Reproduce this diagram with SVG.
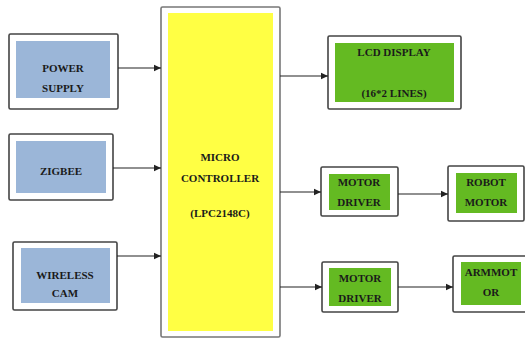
<svg xmlns="http://www.w3.org/2000/svg" width="525" height="339" viewBox="0 0 525 339">
<style>
.outer{fill:#fff;stroke:#444;stroke-width:1.6}
.blue{fill:#9bb6d8}
.green{fill:#64ba22}
.yellow{fill:#ffff44}
.t{font-family:"Liberation Serif",serif;font-weight:bold;font-size:11px;fill:#1a1a1a;text-anchor:middle}
.c{stroke:#222;stroke-width:1.2;fill:none}
</style>
<defs>
<marker id="ah" markerWidth="8" markerHeight="8" refX="7" refY="4" orient="auto" markerUnits="userSpaceOnUse">
<path d="M0,0.8 L7,4 L0,7.2 Z" fill="#222"/>
</marker>
</defs>
<rect width="525" height="339" fill="#fff"/>
<g id="power">
<rect class="outer" x="9" y="34" width="109" height="75" rx="1.5"/>
<rect class="blue" x="16" y="41" width="94" height="57"/>
<text class="t" x="63" y="72">POWER</text>
<text class="t" x="63" y="92">SUPPLY</text>
</g>
<g id="zigbee">
<rect class="outer" x="9" y="134" width="104" height="66" rx="1.5"/>
<rect class="blue" x="16" y="141" width="90" height="52"/>
<text class="t" x="61" y="175">ZIGBEE</text>
</g>
<g id="wireless">
<rect class="outer" x="13" y="242" width="104" height="68" rx="1.5"/>
<rect class="blue" x="21" y="248" width="89" height="55"/>
<text class="t" x="65" y="279">WIRELESS</text>
<text class="t" x="65" y="297">CAM</text>
</g>
<g id="controller">
<rect x="161" y="7" width="119" height="330" fill="#fff" stroke="#777" stroke-width="1.6" rx="1.5"/>
<rect class="yellow" x="168" y="13" width="105" height="318"/>
<text class="t" x="220" y="161">MICRO</text>
<text class="t" x="220" y="182">CONTROLLER</text>
<text class="t" x="220" y="217">(LPC2148C)</text>
</g>
<g id="lcd">
<rect class="outer" x="328" y="36" width="133" height="73" rx="1.5"/>
<rect class="green" x="335" y="43" width="119" height="59"/>
<text class="t" x="394" y="56">LCD DISPLAY</text>
<text class="t" x="394" y="97">(16*2 LINES)</text>
</g>
<g id="driver1">
<rect class="outer" x="321" y="167" width="77" height="49" rx="1.5"/>
<rect class="green" x="329" y="174" width="61" height="36"/>
<text class="t" x="359" y="186">MOTOR</text>
<text class="t" x="359" y="206">DRIVER</text>
</g>
<g id="robot">
<rect class="outer" x="448" y="166" width="76" height="55" rx="1.5"/>
<rect class="green" x="456" y="173" width="61" height="40"/>
<text class="t" x="486" y="186">ROBOT</text>
<text class="t" x="486" y="206">MOTOR</text>
</g>
<g id="driver2">
<rect class="outer" x="322" y="262" width="76" height="50" rx="1.5"/>
<rect class="green" x="329" y="268" width="62" height="38"/>
<text class="t" x="360" y="282">MOTOR</text>
<text class="t" x="360" y="302">DRIVER</text>
</g>
<g id="arm">
<rect class="outer" x="453" y="256" width="76" height="56" rx="1.5"/>
<rect class="green" x="461" y="262" width="60" height="43"/>
<text class="t" x="491" y="276">ARMMOT</text>
<text class="t" x="491" y="296">OR</text>
</g>
<g id="connectors">
<line class="c" x1="118" y1="68" x2="161" y2="68" marker-end="url(#ah)"/>
<line class="c" x1="113" y1="168" x2="161" y2="168" marker-end="url(#ah)"/>
<line class="c" x1="117" y1="256" x2="161" y2="256" marker-end="url(#ah)"/>
<line class="c" x1="280" y1="76" x2="328" y2="76" marker-end="url(#ah)"/>
<line class="c" x1="280" y1="192" x2="321" y2="192" marker-end="url(#ah)"/>
<line class="c" x1="398" y1="194" x2="448" y2="194" marker-end="url(#ah)"/>
<line class="c" x1="280" y1="287" x2="322" y2="287" marker-end="url(#ah)"/>
<line class="c" x1="398" y1="287" x2="453" y2="287" marker-end="url(#ah)"/>
</g>
</svg>
